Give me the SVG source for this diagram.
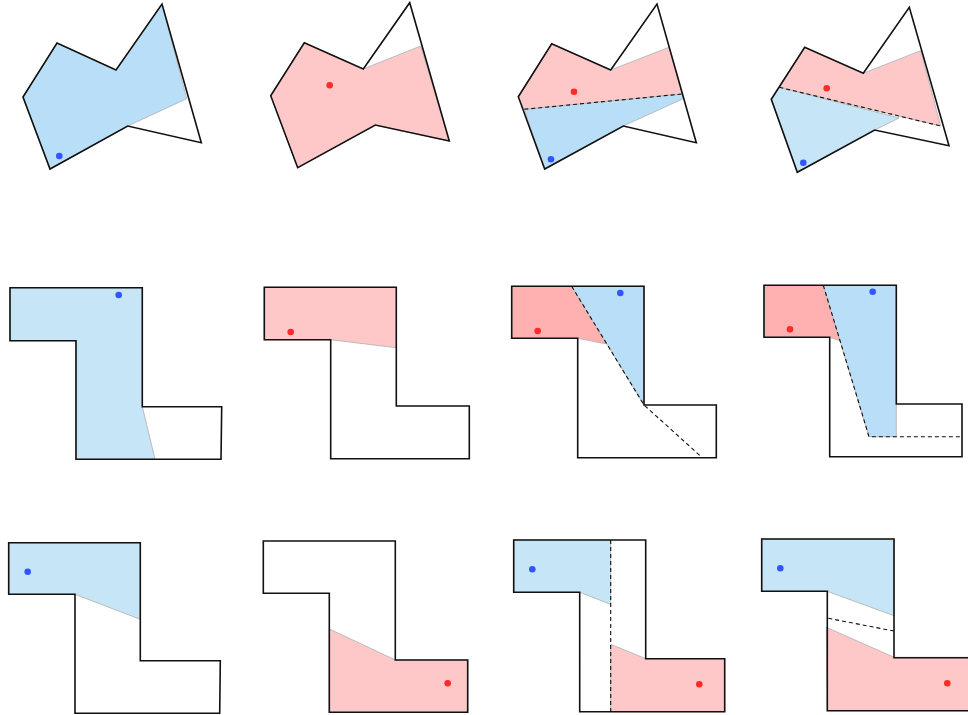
<svg xmlns="http://www.w3.org/2000/svg" width="968" height="715" viewBox="0 0 968 715">
<style>
.outline{fill:none;stroke:#111;stroke-width:1.6;stroke-linejoin:miter}
.blue{fill:#b8dff7;stroke:#bbb;stroke-width:1}
.blue2{fill:#c6e5f7;stroke:#bbb;stroke-width:1}
.red{fill:#ffc8c8;stroke:#bbb;stroke-width:1}
.red2{fill:#ffb0b0;stroke:#bbb;stroke-width:1}
.cut{fill:none;stroke:#111;stroke-width:1.1;stroke-dasharray:4 3}
.db{fill:#3355ff}
.dr{fill:#ff2a2a}
</style>
<rect width="968" height="715" fill="#fff"/>
<g id="p1">
<polygon class="blue" points="23,97 57,43 116,70 162,4 186.7,98.7 127.7,126 50,169"/>
<polygon class="outline" points="23,97 57,43 116,70 162,4 201.3,142.7 127.7,126 50,169"/>
<circle class="db" cx="59.3" cy="156" r="3.3"/>
</g>
<g id="p2">
<polygon class="red" points="270.7,95.7 304.3,42.7 363.3,69 420.7,46 449.3,141 375.3,125 297.7,167.7"/>
<polygon class="outline" points="270.7,95.7 304.3,42.7 363.3,69 409.7,2.7 449.3,141 375.3,125 297.7,167.7"/>
<circle class="dr" cx="329.7" cy="85.3" r="3.3"/>
</g>
<g id="p3">
<polygon class="red" points="524.3,109.3 518.3,96.7 551.7,43.7 610.7,70 669,47.3 682.3,94"/>
<polygon class="blue" points="524.3,109.3 682.3,94 683.5,98.5 623.3,126 544.7,169"/>
<polygon class="outline" points="518.3,96.7 551.7,43.7 610.7,70 657,4 696.3,142.7 623.3,126 544.7,169"/>
<circle class="dr" cx="574" cy="91.7" r="3.3"/>
<circle class="db" cx="551" cy="159.3" r="3.3"/>
</g>
<g id="p4">
<polygon class="red" points="779.3,87.3 804.7,47.3 863.3,73.3 920.7,50.7 940.7,126"/>
<polygon class="blue2" points="771.3,99.3 779.3,87.3 899,118 874.7,130 797.3,172.3"/>
<polygon class="outline" points="771.3,99.3 804.7,47.3 863.3,73.3 909.3,7.3 949,145.7 874.7,130 797.3,172.3"/>
<circle class="dr" cx="826.7" cy="88.3" r="3.3"/>
<circle class="db" cx="803.3" cy="162.7" r="3.3"/>
</g>
<g id="p5">
<polygon class="blue2" points="10,287.7 142.3,287.7 142.3,406.7 155,459.3 76,459.3 76,340.7 10,340.7"/>
<polygon class="outline" points="10,287.7 142.3,287.7 142.3,406.7 221.7,406.7 221,459.3 76,459.3 76,340.7 10,340.7"/>
<circle class="db" cx="118.7" cy="295" r="3.3"/>
</g>
<g id="p6">
<polygon class="red" points="264.3,287.3 396.3,287.3 396.3,347.7 330.7,339.7 264.3,339.7"/>
<polygon class="outline" points="264.3,287.3 396.3,287.3 396.3,406 469.3,406 469.3,458.7 330.7,458.7 330.7,339.7 264.3,339.7"/>
<circle class="dr" cx="290.7" cy="332" r="3.3"/>
</g>
<g id="p7">
<polygon class="red2" points="511.7,286.3 571.7,286.3 606.7,344 577.7,338.3 511.7,338.3"/>
<polygon class="blue" points="571.7,286.3 644,286.3 644,405"/>
<polygon class="outline" points="511.7,286.3 644,286.3 644,405 716.3,405 716.3,457.7 577.7,457.7 577.7,338.3 511.7,338.3"/>
<circle class="dr" cx="537.7" cy="331" r="3.3"/>
<circle class="db" cx="620.3" cy="293" r="3.3"/>
</g>
<g id="p8">
<polygon class="red2" points="764,285.3 823.3,285.3 840,340.7 829.7,337.3 764,337.3"/>
<polygon class="blue" points="823.3,285.3 896.3,285.3 896.3,436.7 869,436.7"/>
<polygon class="outline" points="764,285.3 896.3,285.3 896.3,404 962,404 962,456.7 829.7,456.7 829.7,337.3 764,337.3"/>
<circle class="dr" cx="790" cy="329.3" r="3.3"/>
<circle class="db" cx="872.7" cy="291.7" r="3.3"/>
</g>
<g id="p9">
<polygon class="blue2" points="8.7,542.7 140.3,542.7 140.3,619.3 75,594.3 8.7,594.3"/>
<polygon class="outline" points="8.7,542.7 140.3,542.7 140.3,660.7 220.3,660.7 219.7,713.3 75,713.3 75,594.3 8.7,594.3"/>
<circle class="db" cx="27.7" cy="571.7" r="3.3"/>
</g>
<g id="p10">
<polygon class="red" points="329.3,629 395.3,660 467.7,660 467.7,712.3 329.3,712.3"/>
<polygon class="outline" points="263.3,541 395.3,541 395.3,660 467.7,660 467.7,712.3 329.3,712.3 329.3,593.3 263.3,593.3"/>
<circle class="dr" cx="447.7" cy="683.3" r="3.3"/>
</g>
<g id="p11">
<polygon class="blue2" points="513.7,540 610.7,540 610.7,604.3 579.7,592.3 513.7,592.3"/>
<polygon class="red" points="610.7,644.3 645.7,658.7 724.7,658.7 724.7,711.7 610.7,711.7"/>
<polygon class="outline" points="513.7,540 645.7,540 645.7,658.7 724.7,658.7 724.7,711.7 579.7,711.7 579.7,592.3 513.7,592.3"/>
<circle class="db" cx="532.3" cy="569.3" r="3.3"/>
<circle class="dr" cx="699.3" cy="684.3" r="3.3"/>
</g>
<g id="p12">
<polygon class="blue2" points="761.7,539 894,539 894,615.7 827.3,591.3 761.7,591.3"/>
<polygon class="red" points="826.3,627.3 894,657.3 970,657.3 970,710.7 827.3,710.7"/>
<polygon class="outline" points="761.7,539 894,539 894,657.7 972,657.7 972,710.7 827.3,710.7 827.3,591.3 761.7,591.3"/>
<circle class="db" cx="780.3" cy="568.3" r="3.3"/>
<circle class="dr" cx="947.3" cy="683.3" r="3.3"/>
</g>
<g id="connectors">
<line class="cut" x1="524.3" y1="109.3" x2="682.3" y2="94"/>
<line class="cut" x1="779.3" y1="87.3" x2="940.7" y2="126"/>
<polyline class="cut" points="571.7,286.3 644,405 702.3,457.7"/>
<polyline class="cut" points="823.3,285.3 869,436.7 962,436.7"/>
<line class="cut" x1="610.7" y1="540" x2="610.7" y2="711.7"/>
<line class="cut" x1="828.3" y1="618.3" x2="894" y2="631"/>
</g>
</svg>
